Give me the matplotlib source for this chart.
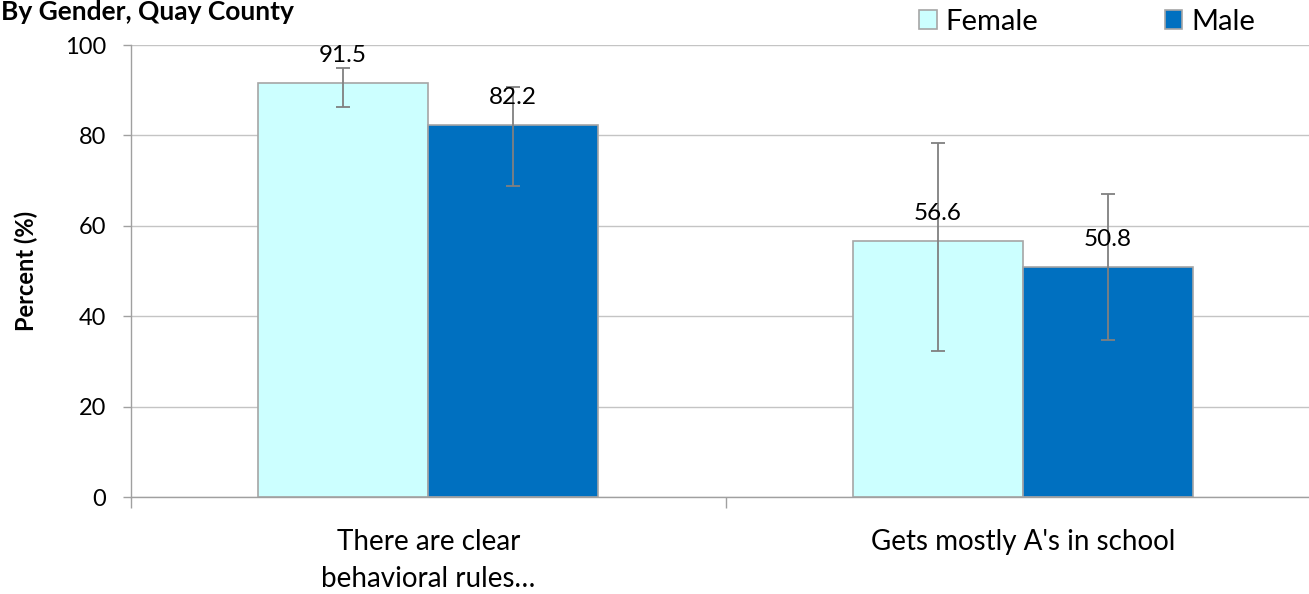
import matplotlib
matplotlib.use("Agg")
import matplotlib.pyplot as plt
from matplotlib.patches import Patch
import numpy as np

categories = ["There are clear\nbehavioral rules…", "Gets mostly A's in school"]
series = ["Female", "Male"]
female = [91.5, 56.6]
male = [82.2, 50.8]
female_lo = [86.3, 32.3]
female_hi = [95.0, 78.3]
male_lo = [68.9, 34.7]
male_hi = [90.8, 67.0]
yticks = [0, 20, 40, 60, 80, 100]

plt.rcParams['font.family'] = ['Lato', 'DejaVu Sans']

W, H = 1309, 594
fig = plt.figure(figsize=(W/100, H/100), dpi=100)
left, right, top, bottom = 131, 1320, 45, 497
ax = fig.add_axes([left/W, (H-bottom)/H, (right-left)/W, (bottom-top)/H])

colors = ["#CCFFFF", "#0070C0"]
bw = 0.286
x = np.arange(len(categories))
vals = [female, male]
los = [female_lo, male_lo]
his = [female_hi, male_hi]
for i, (v, lo, hi) in enumerate(zip(vals, los, his)):
    pos = x + (i - 0.5) * bw
    v = np.array(v); lo = np.array(lo); hi = np.array(hi)
    ax.bar(pos, v, width=bw, color=colors[i], edgecolor="#A6A6A6", linewidth=1.2, zorder=2)
    ax.errorbar(pos, v, yerr=[v - lo, hi - v], fmt='none', ecolor="#808080",
                elinewidth=1.3, capsize=5, capthick=1.3, zorder=3)
    for px, pv in zip(pos, v):
        ax.annotate(f"{pv:.1f}", (px, pv), xytext=(0, 20), textcoords='offset points',
                    ha='center', va='center', fontsize=17.5, zorder=4)

ax.set_xlim(-0.5, 1.5)
ax.set_ylim(0, 100)
ax.set_yticks(yticks)
ax.set_yticklabels([str(t) for t in yticks], fontsize=17)
ax.yaxis.grid(True, color="#C4C4C4", linewidth=1.0, zorder=0)
ax.set_axisbelow(True)
ax.set_xticks(x)
ax.set_xticklabels(categories, fontsize=20, linespacing=1.55)
ax.tick_params(axis='x', length=0, pad=23)
ax.set_xticks([-0.5, 0.5, 1.5], minor=True)
ax.tick_params(axis='x', which='minor', length=8, color="#A0A0A0", width=1)
ax.tick_params(axis='y', length=6, color="#A0A0A0", width=1, pad=12)
for s in ['top', 'right']:
    ax.spines[s].set_visible(False)
for s in ['left', 'bottom']:
    ax.spines[s].set_color("#A0A0A0")
    ax.spines[s].set_linewidth(1.0)

fig.text(26/W, 1 - 271/H, "Percent (%)", rotation=90, ha='center', va='center',
         fontsize=17, fontweight='bold')
fig.text(1/W, 1 - 20/H, "By Gender, Quay County", ha='left', va='baseline',
         fontsize=19, fontweight='bold')

handles = [Patch(facecolor=colors[i], edgecolor="#A6A6A6", linewidth=1.2) for i in range(2)]
fig.legend(handles, series, loc='center left', bbox_to_anchor=(919/W, 1 - 22/H),
           ncol=2, frameon=False, fontsize=21, handlelength=0.6, handleheight=0.6,
           handletextpad=0.3, columnspacing=4.35, borderaxespad=0, borderpad=0)

fig.savefig("out.png", dpi=100)
